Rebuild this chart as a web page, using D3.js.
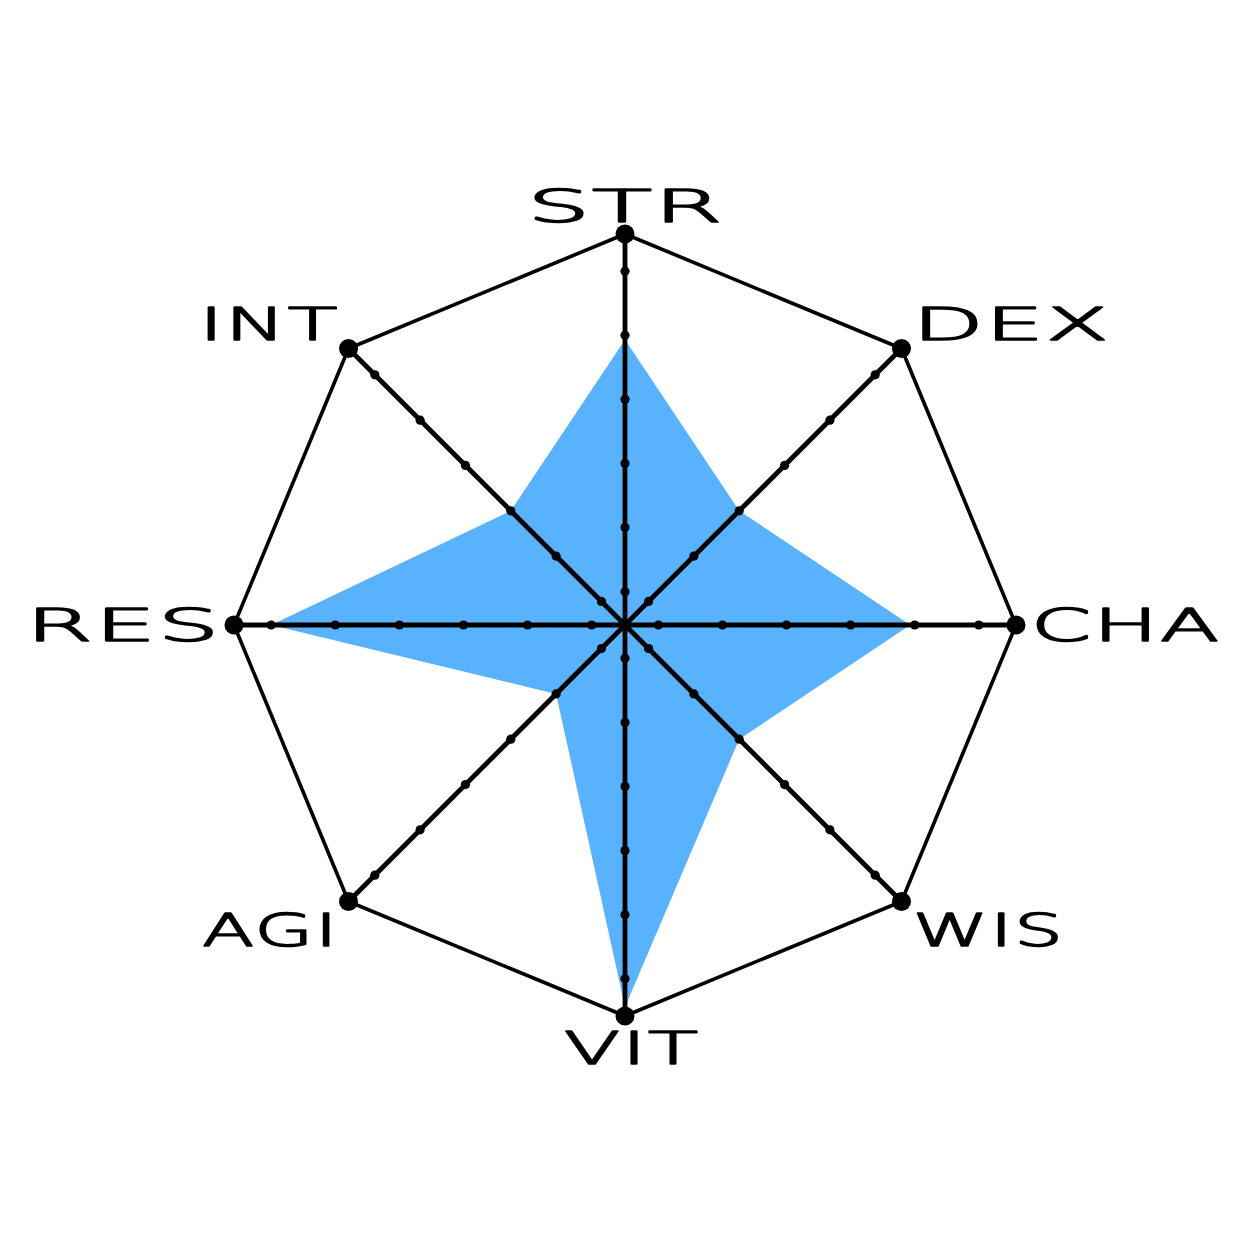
<!DOCTYPE html>
<html>
<head>
<meta charset="utf-8">
<script src="https://cdn.jsdelivr.net/npm/d3@7"></script>
<style>
  html, body { margin: 0; padding: 0; background: #ffffff; }
  svg { display: block; }
</style>
</head>
<body>
<svg id="chart" width="1256" height="1256"></svg>
<script>
// ---- data ----
const axes = ["STR", "DEX", "CHA", "WIS", "VIT", "AGI", "RES", "INT"];
const values = [4.45, 2.52, 4.45, 2.52, 5.96, 1.52, 5.52, 2.52];
const tickValues = [0.52, 1.52, 2.52, 3.52, 4.52, 5.52];
const maxValue = 6.1;

// ---- layout / style ----
const cx = 625, cy = 625, R = 391;
const fillColor = "#58b2fd";
const labelFont = "DejaVu Sans";
const labelSize = 44;
const capHeight = 32;
const letterSpacing = 1;
const labelWidths = { STR: 195, DEX: 196, CHA: 188, WIS: 150, VIT: 134, AGI: 135, RES: 193, INT: 138 };

const svg = d3.select("#chart");
const g = svg.append("g").attr("transform", `translate(${cx},${cy})`);

const r = d3.scaleLinear().domain([0, maxValue]).range([0, R]);
const angle = d3.scaleLinear().domain([0, axes.length]).range([0, 2 * Math.PI]);

const radialLine = d3.lineRadial()
  .angle((d, i) => angle(i))
  .radius(d => r(d))
  .curve(d3.curveLinearClosed);

// data area
g.append("path")
  .datum(values)
  .attr("d", radialLine)
  .attr("fill", fillColor)
  .attr("stroke", "none");

// axis spokes
g.selectAll("line.spoke")
  .data(axes)
  .join("line")
  .attr("class", "spoke")
  .attr("x1", 0).attr("y1", 0)
  .attr("x2", (d, i) => d3.pointRadial(angle(i), r(maxValue))[0])
  .attr("y2", (d, i) => d3.pointRadial(angle(i), r(maxValue))[1])
  .attr("stroke", "#000")
  .attr("stroke-width", 4.8)
  .attr("stroke-linecap", "round");

// outer octagon
g.append("path")
  .datum(axes.map(() => maxValue))
  .attr("d", radialLine)
  .attr("fill", "none")
  .attr("stroke", "#000")
  .attr("stroke-width", 3.6)
  .attr("stroke-linejoin", "round");

// tick dots
const tickPts = [];
axes.forEach((a, i) => tickValues.forEach(t => tickPts.push(d3.pointRadial(angle(i), r(t)))));
g.selectAll("circle.tick")
  .data(tickPts)
  .join("circle")
  .attr("class", "tick")
  .attr("cx", d => d[0]).attr("cy", d => d[1])
  .attr("r", 4.6)
  .attr("fill", "#000");

// vertex dots
g.selectAll("circle.vertex")
  .data(axes)
  .join("circle")
  .attr("class", "vertex")
  .attr("cx", (d, i) => d3.pointRadial(angle(i), r(maxValue))[0])
  .attr("cy", (d, i) => d3.pointRadial(angle(i), r(maxValue))[1])
  .attr("r", 9.5)
  .attr("fill", "#000");

// labels (horizontally stretched to the wide display face)
g.selectAll("text.label")
  .data(axes)
  .join("text")
  .attr("class", "label")
  .attr("font-family", labelFont)
  .attr("font-size", labelSize)
  .attr("font-weight", 200)
  .attr("letter-spacing", letterSpacing)
  .attr("fill", "#000")
  .attr("stroke", "#000")
  .attr("stroke-width", 1.6)
  .attr("stroke-linejoin", "round")
  .text(d => d)
  .each(function(d, i) {
    const a = angle(i);
    const ux = Math.sin(a), uy = -Math.cos(a);
    const [vx, vy] = d3.pointRadial(a, r(maxValue));
    const w = labelWidths[d];
    const bb = this.getBBox();
    const natural = bb.width - letterSpacing;
    const sx = w / natural;
    let x, base;
    if (ux > 0.1) x = vx + 13 * ux + 2;
    else if (ux < -0.1) x = vx + 13 * ux - 2 - w;
    else x = vx - w / 2 + (uy > 0 ? 6 : 0);
    if (uy < -0.1) base = vy + 12 * uy;
    else if (uy > 0.1) base = vy + 13 * uy + 3 + capHeight;
    else base = vy + capHeight / 2;
    d3.select(this)
      .attr("x", 0)
      .attr("y", 0)
      .attr("transform", `translate(${x - bb.x * sx},${base}) scale(${sx},1)`);
  });
</script>
</body>
</html>
